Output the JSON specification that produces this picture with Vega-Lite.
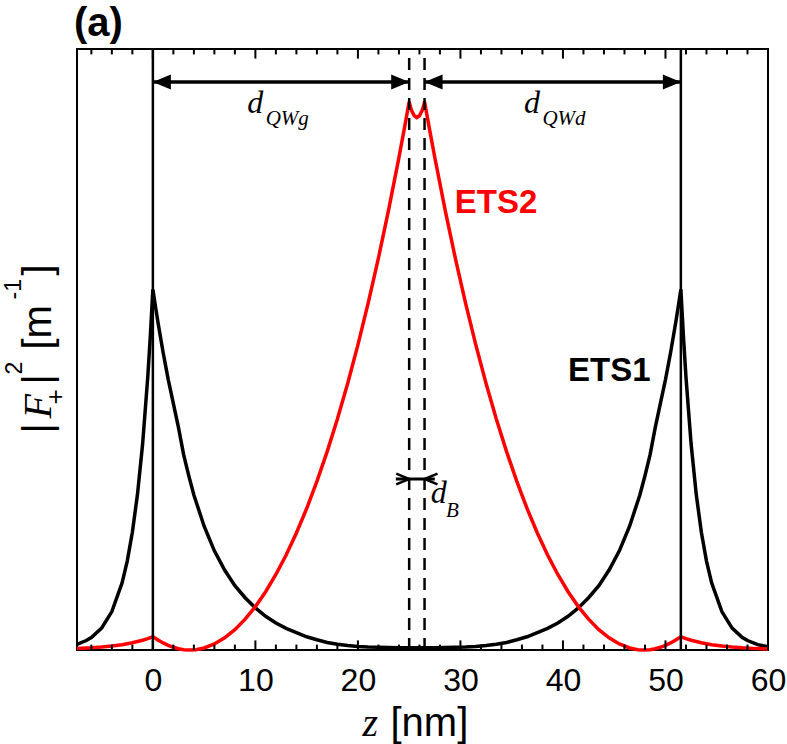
{
  "$schema": "https://vega.github.io/schema/vega-lite/v6.json",
  "width": 691,
  "height": 601,
  "autosize": "none",
  "padding": {"left": 77, "top": 49, "right": 19, "bottom": 94},
  "background": "#ffffff",
  "title": {"text": "(a)", "anchor": "start", "frame": "group", "font": "Liberation Sans", "fontSize": 40, "fontWeight": "bold", "color": "#000000", "baseline": "alphabetic", "offset": 12, "dx": -3, "dy": 40},
  "config": {"view": {"stroke": "#000000", "strokeWidth": 2}, "axis": {"grid": false, "domain": false}},
  "datasets": {
    "curves": [
      {"z": -7.4, "v": 0.95, "s": "ETS1"}, {"z": -6.5, "v": 1.58, "s": "ETS1"}, {"z": -6, "v": 2.08, "s": "ETS1"}, {"z": -5, "v": 3.65, "s": "ETS1"}, {"z": -4, "v": 6.39, "s": "ETS1"}, {"z": -3, "v": 11.18, "s": "ETS1"}, {"z": -2.5, "v": 14.8, "s": "ETS1"}, {"z": -2, "v": 19.58, "s": "ETS1"}, {"z": -1.5, "v": 25.9, "s": "ETS1"}, {"z": -1, "v": 34.27, "s": "ETS1"}, {"z": -0.5, "v": 45.35, "s": "ETS1"}, {"z": -0.25, "v": 52.2, "s": "ETS1"}, {"z": 0, "v": 60, "s": "ETS1"}, {"z": 0.25, "v": 57.2, "s": "ETS1"}, {"z": 0.5, "v": 54.5, "s": "ETS1"}, {"z": 1, "v": 49.5, "s": "ETS1"}, {"z": 1.5, "v": 45.0, "s": "ETS1"}, {"z": 2, "v": 41.0, "s": "ETS1"}, {"z": 2.5, "v": 37.0, "s": "ETS1"}, {"z": 3, "v": 32.5, "s": "ETS1"}, {"z": 3.5, "v": 29.0, "s": "ETS1"}, {"z": 4, "v": 25.8, "s": "ETS1"}, {"z": 5, "v": 20.6, "s": "ETS1"}, {"z": 6, "v": 16.5, "s": "ETS1"}, {"z": 7, "v": 13.3, "s": "ETS1"}, {"z": 8, "v": 10.7, "s": "ETS1"}, {"z": 9, "v": 8.7, "s": "ETS1"}, {"z": 10, "v": 7.0, "s": "ETS1"}, {"z": 11, "v": 5.6, "s": "ETS1"}, {"z": 12, "v": 4.5, "s": "ETS1"}, {"z": 13, "v": 3.6, "s": "ETS1"}, {"z": 14, "v": 2.9, "s": "ETS1"}, {"z": 15, "v": 2.2, "s": "ETS1"}, {"z": 16, "v": 1.7, "s": "ETS1"}, {"z": 17, "v": 1.25, "s": "ETS1"}, {"z": 18, "v": 0.95, "s": "ETS1"}, {"z": 19, "v": 0.75, "s": "ETS1"}, {"z": 20, "v": 0.6, "s": "ETS1"}, {"z": 21, "v": 0.5, "s": "ETS1"}, {"z": 22, "v": 0.45, "s": "ETS1"}, {"z": 23, "v": 0.4, "s": "ETS1"}, {"z": 24, "v": 0.38, "s": "ETS1"}, {"z": 25, "v": 0.37, "s": "ETS1"}, {"z": 25.75, "v": 0.37, "s": "ETS1"}, {"z": 26.5, "v": 0.37, "s": "ETS1"}, {"z": 27.5, "v": 0.38, "s": "ETS1"}, {"z": 28.5, "v": 0.4, "s": "ETS1"}, {"z": 29.5, "v": 0.45, "s": "ETS1"}, {"z": 30.5, "v": 0.5, "s": "ETS1"}, {"z": 31.5, "v": 0.6, "s": "ETS1"}, {"z": 32.5, "v": 0.75, "s": "ETS1"}, {"z": 33.5, "v": 0.95, "s": "ETS1"}, {"z": 34.5, "v": 1.25, "s": "ETS1"}, {"z": 35.5, "v": 1.7, "s": "ETS1"}, {"z": 36.5, "v": 2.2, "s": "ETS1"}, {"z": 37.5, "v": 2.9, "s": "ETS1"}, {"z": 38.5, "v": 3.6, "s": "ETS1"}, {"z": 39.5, "v": 4.5, "s": "ETS1"}, {"z": 40.5, "v": 5.6, "s": "ETS1"}, {"z": 41.5, "v": 7.0, "s": "ETS1"}, {"z": 42.5, "v": 8.7, "s": "ETS1"}, {"z": 43.5, "v": 10.7, "s": "ETS1"}, {"z": 44.5, "v": 13.3, "s": "ETS1"}, {"z": 45.5, "v": 16.5, "s": "ETS1"}, {"z": 46.5, "v": 20.6, "s": "ETS1"}, {"z": 47.5, "v": 25.8, "s": "ETS1"}, {"z": 48, "v": 29.0, "s": "ETS1"}, {"z": 48.5, "v": 32.5, "s": "ETS1"}, {"z": 49, "v": 37.0, "s": "ETS1"}, {"z": 49.5, "v": 41.0, "s": "ETS1"}, {"z": 50, "v": 45.0, "s": "ETS1"}, {"z": 50.5, "v": 49.5, "s": "ETS1"}, {"z": 51, "v": 54.5, "s": "ETS1"}, {"z": 51.25, "v": 57.2, "s": "ETS1"}, {"z": 51.5, "v": 60, "s": "ETS1"}, {"z": 51.75, "v": 52.2, "s": "ETS1"}, {"z": 52, "v": 45.35, "s": "ETS1"}, {"z": 52.5, "v": 34.27, "s": "ETS1"}, {"z": 53, "v": 25.9, "s": "ETS1"}, {"z": 53.5, "v": 19.58, "s": "ETS1"}, {"z": 54, "v": 14.8, "s": "ETS1"}, {"z": 54.5, "v": 11.18, "s": "ETS1"}, {"z": 55.5, "v": 6.39, "s": "ETS1"}, {"z": 56.5, "v": 3.65, "s": "ETS1"}, {"z": 57.5, "v": 2.08, "s": "ETS1"}, {"z": 58, "v": 1.58, "s": "ETS1"}, {"z": 59, "v": 0.9, "s": "ETS1"}, {"z": 60, "v": 0.55, "s": "ETS1"},
      {"z": -7.4, "v": 0.24, "s": "ETS2"}, {"z": -6, "v": 0.36, "s": "ETS2"}, {"z": -5, "v": 0.49, "s": "ETS2"}, {"z": -4, "v": 0.66, "s": "ETS2"}, {"z": -3, "v": 0.89, "s": "ETS2"}, {"z": -2, "v": 1.21, "s": "ETS2"}, {"z": -1, "v": 1.63, "s": "ETS2"}, {"z": -0.5, "v": 1.9, "s": "ETS2"}, {"z": 0, "v": 2.2, "s": "ETS2"}, {"z": 0.5, "v": 1.68, "s": "ETS2"}, {"z": 1, "v": 1.18, "s": "ETS2"}, {"z": 1.5, "v": 0.77, "s": "ETS2"}, {"z": 2, "v": 0.45, "s": "ETS2"}, {"z": 2.5, "v": 0.21, "s": "ETS2"}, {"z": 3, "v": 0.06, "s": "ETS2"}, {"z": 3.6, "v": 0, "s": "ETS2"}, {"z": 4.2, "v": 0.06, "s": "ETS2"}, {"z": 5, "v": 0.34, "s": "ETS2"}, {"z": 6, "v": 1.01, "s": "ETS2"}, {"z": 7, "v": 2.02, "s": "ETS2"}, {"z": 8, "v": 3.39, "s": "ETS2"}, {"z": 9, "v": 5.13, "s": "ETS2"}, {"z": 10, "v": 7.22, "s": "ETS2"}, {"z": 11, "v": 9.7, "s": "ETS2"}, {"z": 12, "v": 12.56, "s": "ETS2"}, {"z": 13, "v": 15.81, "s": "ETS2"}, {"z": 14, "v": 19.47, "s": "ETS2"}, {"z": 15, "v": 23.54, "s": "ETS2"}, {"z": 16, "v": 28.05, "s": "ETS2"}, {"z": 17, "v": 33.01, "s": "ETS2"}, {"z": 18, "v": 38.44, "s": "ETS2"}, {"z": 19, "v": 44.35, "s": "ETS2"}, {"z": 20, "v": 50.77, "s": "ETS2"}, {"z": 21, "v": 57.72, "s": "ETS2"}, {"z": 22, "v": 65.21, "s": "ETS2"}, {"z": 23, "v": 73.27, "s": "ETS2"}, {"z": 24, "v": 81.94, "s": "ETS2"}, {"z": 24.5, "v": 86.5, "s": "ETS2"}, {"z": 25, "v": 91.22, "s": "ETS2"}, {"z": 25.1, "v": 90.5, "s": "ETS2"}, {"z": 25.25, "v": 89.7, "s": "ETS2"}, {"z": 25.5, "v": 88.9, "s": "ETS2"}, {"z": 25.75, "v": 88.6, "s": "ETS2"}, {"z": 26, "v": 88.9, "s": "ETS2"}, {"z": 26.25, "v": 89.7, "s": "ETS2"}, {"z": 26.4, "v": 90.5, "s": "ETS2"}, {"z": 26.5, "v": 91.22, "s": "ETS2"}, {"z": 27, "v": 86.5, "s": "ETS2"}, {"z": 27.5, "v": 81.94, "s": "ETS2"}, {"z": 28.5, "v": 73.27, "s": "ETS2"}, {"z": 29.5, "v": 65.21, "s": "ETS2"}, {"z": 30.5, "v": 57.72, "s": "ETS2"}, {"z": 31.5, "v": 50.77, "s": "ETS2"}, {"z": 32.5, "v": 44.35, "s": "ETS2"}, {"z": 33.5, "v": 38.44, "s": "ETS2"}, {"z": 34.5, "v": 33.01, "s": "ETS2"}, {"z": 35.5, "v": 28.05, "s": "ETS2"}, {"z": 36.5, "v": 23.54, "s": "ETS2"}, {"z": 37.5, "v": 19.47, "s": "ETS2"}, {"z": 38.5, "v": 15.81, "s": "ETS2"}, {"z": 39.5, "v": 12.56, "s": "ETS2"}, {"z": 40.5, "v": 9.7, "s": "ETS2"}, {"z": 41.5, "v": 7.22, "s": "ETS2"}, {"z": 42.5, "v": 5.13, "s": "ETS2"}, {"z": 43.5, "v": 3.39, "s": "ETS2"}, {"z": 44.5, "v": 2.02, "s": "ETS2"}, {"z": 45.5, "v": 1.01, "s": "ETS2"}, {"z": 46.5, "v": 0.34, "s": "ETS2"}, {"z": 47.3, "v": 0.06, "s": "ETS2"}, {"z": 47.9, "v": 0, "s": "ETS2"}, {"z": 48.5, "v": 0.06, "s": "ETS2"}, {"z": 49, "v": 0.21, "s": "ETS2"}, {"z": 49.5, "v": 0.45, "s": "ETS2"}, {"z": 50, "v": 0.77, "s": "ETS2"}, {"z": 50.5, "v": 1.18, "s": "ETS2"}, {"z": 51, "v": 1.68, "s": "ETS2"}, {"z": 51.5, "v": 2.2, "s": "ETS2"}, {"z": 52, "v": 1.9, "s": "ETS2"}, {"z": 52.5, "v": 1.63, "s": "ETS2"}, {"z": 53.5, "v": 1.21, "s": "ETS2"}, {"z": 54.5, "v": 0.89, "s": "ETS2"}, {"z": 55.5, "v": 0.66, "s": "ETS2"}, {"z": 56.5, "v": 0.49, "s": "ETS2"}, {"z": 57.5, "v": 0.36, "s": "ETS2"}, {"z": 58.5, "v": 0.27, "s": "ETS2"}, {"z": 60, "v": 0.17, "s": "ETS2"}
    ],
    "walls": [{"z": 0}, {"z": 51.5}],
    "barrier": [{"z": 25}, {"z": 26.5}],
    "arrows": [{"z1": 0, "z2": 25, "v": 94.5}, {"z1": 26.5, "z2": 51.5, "v": 94.5}],
    "heads": [{"z": 0, "v": 94.5, "h": "bigL"}, {"z": 25, "v": 94.5, "h": "bigR"}, {"z": 26.5, "v": 94.5, "h": "bigL"}, {"z": 51.5, "v": 94.5, "h": "bigR"}],
    "dbline": [{"z1": 23.7, "z2": 27.5, "v": 28.45}],
    "barbs": [{"z": 25, "v": 28.45, "h": "barbR"}, {"z": 26.5, "v": 28.45, "h": "barbL"}],
    "names": [{"z": 29.45, "v": 72.7, "s": "ETS2"}, {"z": 40.5, "v": 44.8, "s": "ETS1"}],
    "dsym": [{"z": 9.2, "v": 89.4, "t": "d"}, {"z": 36.2, "v": 89.4, "t": "d"}, {"z": 27.1, "v": 24.46, "t": "d"}],
    "subs": [{"z": 11.0, "v": 87.4, "t": "QWg"}, {"z": 38.0, "v": 87.4, "t": "QWd"}, {"z": 28.6, "v": 22.18, "t": "B"}]
  },
  "resolve": {"axis": {"x": "independent", "y": "independent"}},
  "layer": [
    {
      "data": {"name": "curves"},
      "mark": {"type": "line", "strokeWidth": 3.5, "interpolate": "linear"},
      "encoding": {
        "x": {"field": "z", "type": "quantitative", "scale": {"domain": [-7.4, 60], "nice": false, "zero": false},
          "axis": {"orient": "bottom", "values": [0, 10, 20, 30, 40, 50, 60], "ticks": false, "domain": false, "grid": false, "labelFont": "Liberation Sans", "labelFontSize": 32, "labelColor": "#000000", "labelPadding": 40, "labelBaseline": "alphabetic", "labelFlush": false, "labelOverlap": false, "title": "[nm]", "titleFont": "Liberation Sans", "titleFontSize": 40, "titleFontWeight": "normal", "titleColor": "#000000", "titleX": 313, "titleY": 85, "titleAlign": "left", "titleBaseline": "alphabetic"}},
        "y": {"field": "v", "type": "quantitative", "scale": {"domain": [0, 100], "nice": false, "zero": false},
          "axis": {"orient": "left", "ticks": false, "labels": false, "domain": false, "grid": false, "title": "|", "titleFont": "Liberation Sans", "titleFontSize": 40, "titleFontWeight": "normal", "titleColor": "#000000", "titleAngle": 270, "titleX": -27, "titleY": 384, "titleAlign": "left", "titleBaseline": "alphabetic"}},
        "color": {"field": "s", "type": "nominal", "scale": {"domain": ["ETS1", "ETS2"], "range": ["#000000", "#ff0000"]}, "legend": null}
      }
    },
    {
      "data": {"name": "walls"},
      "mark": {"type": "rule", "color": "#000000", "strokeWidth": 2.5},
      "encoding": {
        "x": {"field": "z", "type": "quantitative", "scale": {"domain": [-7.4, 60], "nice": false, "zero": false},
          "axis": {"orient": "bottom", "labels": false, "domain": false, "grid": false, "ticks": false, "title": "z", "titleFont": "Liberation Serif", "titleFontStyle": "italic", "titleFontSize": 40, "titleFontWeight": "normal", "titleColor": "#000000", "titleX": 285, "titleY": 85, "titleAlign": "left", "titleBaseline": "alphabetic"}},
        "y": {"datum": 0, "type": "quantitative", "scale": {"domain": [0, 100], "nice": false, "zero": false},
          "axis": {"orient": "left", "ticks": false, "labels": false, "domain": false, "grid": false, "title": "F", "titleFont": "Liberation Serif", "titleFontStyle": "italic", "titleFontSize": 40, "titleFontWeight": "normal", "titleColor": "#000000", "titleAngle": 270, "titleX": -27, "titleY": 369, "titleAlign": "left", "titleBaseline": "alphabetic"}},
        "y2": {"datum": 100}
      }
    },
    {
      "data": {"name": "barrier"},
      "mark": {"type": "rule", "color": "#000000", "strokeWidth": 2.5, "strokeDash": [12, 8]},
      "encoding": {
        "x": {"field": "z", "type": "quantitative", "scale": {"domain": [-7.4, 60], "nice": false, "zero": false}, "axis": null},
        "y": {"datum": 0, "type": "quantitative", "scale": {"domain": [0, 100], "nice": false, "zero": false},
          "axis": {"orient": "left", "ticks": false, "labels": false, "domain": false, "grid": false, "title": "+", "titleFont": "Liberation Sans", "titleFontSize": 26, "titleFontWeight": "normal", "titleColor": "#000000", "titleAngle": 270, "titleX": -14, "titleY": 355, "titleAlign": "left", "titleBaseline": "alphabetic"}},
        "y2": {"datum": 100}
      }
    },
    {
      "data": {"name": "arrows"},
      "mark": {"type": "rule", "color": "#000000", "strokeWidth": 3.5},
      "encoding": {
        "x": {"field": "z1", "type": "quantitative", "scale": {"domain": [-7.4, 60], "nice": false, "zero": false}, "axis": null},
        "x2": {"field": "z2"},
        "y": {"field": "v", "type": "quantitative", "scale": {"domain": [0, 100], "nice": false, "zero": false},
          "axis": {"orient": "left", "ticks": false, "labels": false, "domain": false, "grid": false, "title": "|", "titleFont": "Liberation Sans", "titleFontSize": 40, "titleFontWeight": "normal", "titleColor": "#000000", "titleAngle": 270, "titleX": -27, "titleY": 335, "titleAlign": "left", "titleBaseline": "alphabetic"}}
      }
    },
    {
      "data": {"name": "heads"},
      "mark": {"type": "point", "filled": true, "color": "#000000", "opacity": 1, "strokeWidth": 0, "size": 1296},
      "encoding": {
        "x": {"field": "z", "type": "quantitative", "scale": {"domain": [-7.4, 60], "nice": false, "zero": false}, "axis": null},
        "y": {"field": "v", "type": "quantitative", "scale": {"domain": [0, 100], "nice": false, "zero": false},
          "axis": {"orient": "left", "ticks": false, "labels": false, "domain": false, "grid": false, "title": "2", "titleFont": "Liberation Sans", "titleFontSize": 23, "titleFontWeight": "normal", "titleColor": "#000000", "titleAngle": 270, "titleX": -56, "titleY": 325, "titleAlign": "left", "titleBaseline": "alphabetic"}},
        "shape": {"field": "h", "type": "nominal", "scale": {"domain": ["bigL", "bigR", "barbR", "barbL"], "range": ["M0,0L1,-0.42L1,0.42Z", "M0,0L-1,-0.42L-1,0.42Z", "M-0.72,-0.3L0,0L-0.72,0.3", "M0.72,-0.3L0,0L0.72,0.3"]}, "legend": null}
      }
    },
    {
      "data": {"name": "dbline"},
      "mark": {"type": "rule", "color": "#000000", "strokeWidth": 3},
      "encoding": {
        "x": {"field": "z1", "type": "quantitative", "scale": {"domain": [-7.4, 60], "nice": false, "zero": false}, "axis": null},
        "x2": {"field": "z2"},
        "y": {"field": "v", "type": "quantitative", "scale": {"domain": [0, 100], "nice": false, "zero": false},
          "axis": {"orient": "left", "ticks": false, "labels": false, "domain": false, "grid": false, "title": "[m", "titleFont": "Liberation Sans", "titleFontSize": 40, "titleFontWeight": "normal", "titleColor": "#000000", "titleAngle": 270, "titleX": -27, "titleY": 300, "titleAlign": "left", "titleBaseline": "alphabetic"}}
      }
    },
    {
      "data": {"name": "barbs"},
      "mark": {"type": "point", "filled": false, "color": "#000000", "opacity": 1, "strokeWidth": 2.5, "size": 1296},
      "encoding": {
        "x": {"field": "z", "type": "quantitative", "scale": {"domain": [-7.4, 60], "nice": false, "zero": false}, "axis": null},
        "y": {"field": "v", "type": "quantitative", "scale": {"domain": [0, 100], "nice": false, "zero": false},
          "axis": {"orient": "left", "ticks": false, "labels": false, "domain": false, "grid": false, "title": "-1", "titleFont": "Liberation Sans", "titleFontSize": 23, "titleFontWeight": "normal", "titleColor": "#000000", "titleAngle": 270, "titleX": -57, "titleY": 250, "titleAlign": "left", "titleBaseline": "alphabetic"}},
        "shape": {"field": "h", "type": "nominal", "scale": {"domain": ["bigL", "bigR", "barbR", "barbL"], "range": ["M0,0L1,-0.42L1,0.42Z", "M0,0L-1,-0.42L-1,0.42Z", "M-0.72,-0.3L0,0L-0.72,0.3", "M0.72,-0.3L0,0L0.72,0.3"]}, "legend": null}
      }
    },
    {
      "data": {"name": "names"},
      "mark": {"type": "text", "font": "Liberation Sans", "fontSize": 33, "fontWeight": "bold", "align": "left", "baseline": "alphabetic"},
      "encoding": {
        "x": {"field": "z", "type": "quantitative", "scale": {"domain": [-7.4, 60], "nice": false, "zero": false}, "axis": null},
        "y": {"field": "v", "type": "quantitative", "scale": {"domain": [0, 100], "nice": false, "zero": false},
          "axis": {"orient": "left", "ticks": false, "labels": false, "domain": false, "grid": false, "title": "]", "titleFont": "Liberation Sans", "titleFontSize": 40, "titleFontWeight": "normal", "titleColor": "#000000", "titleAngle": 270, "titleX": -27, "titleY": 226, "titleAlign": "left", "titleBaseline": "alphabetic"}},
        "text": {"field": "s", "type": "nominal"},
        "color": {"field": "s", "type": "nominal", "scale": {"domain": ["ETS1", "ETS2"], "range": ["#000000", "#ff0000"]}, "legend": null}
      }
    },
    {
      "data": {"name": "dsym"},
      "mark": {"type": "text", "font": "Liberation Serif", "fontStyle": "italic", "fontSize": 32, "align": "left", "baseline": "alphabetic", "color": "#000000"},
      "encoding": {
        "x": {"field": "z", "type": "quantitative", "scale": {"domain": [-7.4, 60], "nice": false, "zero": false}, "axis": null},
        "y": {"field": "v", "type": "quantitative", "scale": {"domain": [0, 100], "nice": false, "zero": false}, "axis": null},
        "text": {"field": "t", "type": "nominal"}
      }
    },
    {
      "data": {"name": "subs"},
      "mark": {"type": "text", "font": "Liberation Serif", "fontStyle": "italic", "fontSize": 21, "align": "left", "baseline": "alphabetic", "color": "#000000"},
      "encoding": {
        "x": {"field": "z", "type": "quantitative", "scale": {"domain": [-7.4, 60], "nice": false, "zero": false}, "axis": null},
        "y": {"field": "v", "type": "quantitative", "scale": {"domain": [0, 100], "nice": false, "zero": false}, "axis": null},
        "text": {"field": "t", "type": "nominal"}
      }
    },
    {
      "data": {"values": [{"t": 0}, {"t": 10}, {"t": 20}, {"t": 30}, {"t": 40}, {"t": 50}, {"t": 60}]},
      "mark": {"type": "rule", "color": "#000000", "strokeWidth": 2},
      "encoding": {
        "x": {"field": "t", "type": "quantitative", "scale": {"domain": [-7.4, 60], "nice": false, "zero": false}, "axis": null},
        "y": {"datum": 0, "type": "quantitative", "scale": {"domain": [0, 100], "nice": false, "zero": false}, "axis": null},
        "y2": {"datum": 1.6}
      }
    },
    {
      "data": {"values": [{"t": 0}, {"t": 10}, {"t": 20}, {"t": 30}, {"t": 40}, {"t": 50}, {"t": 60}]},
      "mark": {"type": "rule", "color": "#000000", "strokeWidth": 2},
      "encoding": {
        "x": {"field": "t", "type": "quantitative", "scale": {"domain": [-7.4, 60], "nice": false, "zero": false}, "axis": null},
        "y": {"datum": 98.4, "type": "quantitative", "scale": {"domain": [0, 100], "nice": false, "zero": false}, "axis": null},
        "y2": {"datum": 100}
      }
    },
    {
      "data": {"values": [{"t": -6}, {"t": -4}, {"t": -2}, {"t": 2}, {"t": 4}, {"t": 6}, {"t": 8}, {"t": 12}, {"t": 14}, {"t": 16}, {"t": 18}, {"t": 22}, {"t": 24}, {"t": 26}, {"t": 28}, {"t": 32}, {"t": 34}, {"t": 36}, {"t": 38}, {"t": 42}, {"t": 44}, {"t": 46}, {"t": 48}, {"t": 52}, {"t": 54}, {"t": 56}, {"t": 58}]},
      "mark": {"type": "rule", "color": "#000000", "strokeWidth": 2},
      "encoding": {
        "x": {"field": "t", "type": "quantitative", "scale": {"domain": [-7.4, 60], "nice": false, "zero": false}, "axis": null},
        "y": {"datum": 0, "type": "quantitative", "scale": {"domain": [0, 100], "nice": false, "zero": false}, "axis": null},
        "y2": {"datum": 0.9}
      }
    },
    {
      "data": {"values": [{"t": -6}, {"t": -4}, {"t": -2}, {"t": 2}, {"t": 4}, {"t": 6}, {"t": 8}, {"t": 12}, {"t": 14}, {"t": 16}, {"t": 18}, {"t": 22}, {"t": 24}, {"t": 26}, {"t": 28}, {"t": 32}, {"t": 34}, {"t": 36}, {"t": 38}, {"t": 42}, {"t": 44}, {"t": 46}, {"t": 48}, {"t": 52}, {"t": 54}, {"t": 56}, {"t": 58}]},
      "mark": {"type": "rule", "color": "#000000", "strokeWidth": 2},
      "encoding": {
        "x": {"field": "t", "type": "quantitative", "scale": {"domain": [-7.4, 60], "nice": false, "zero": false}, "axis": null},
        "y": {"datum": 99.1, "type": "quantitative", "scale": {"domain": [0, 100], "nice": false, "zero": false}, "axis": null},
        "y2": {"datum": 100}
      }
    }
  ]
}
